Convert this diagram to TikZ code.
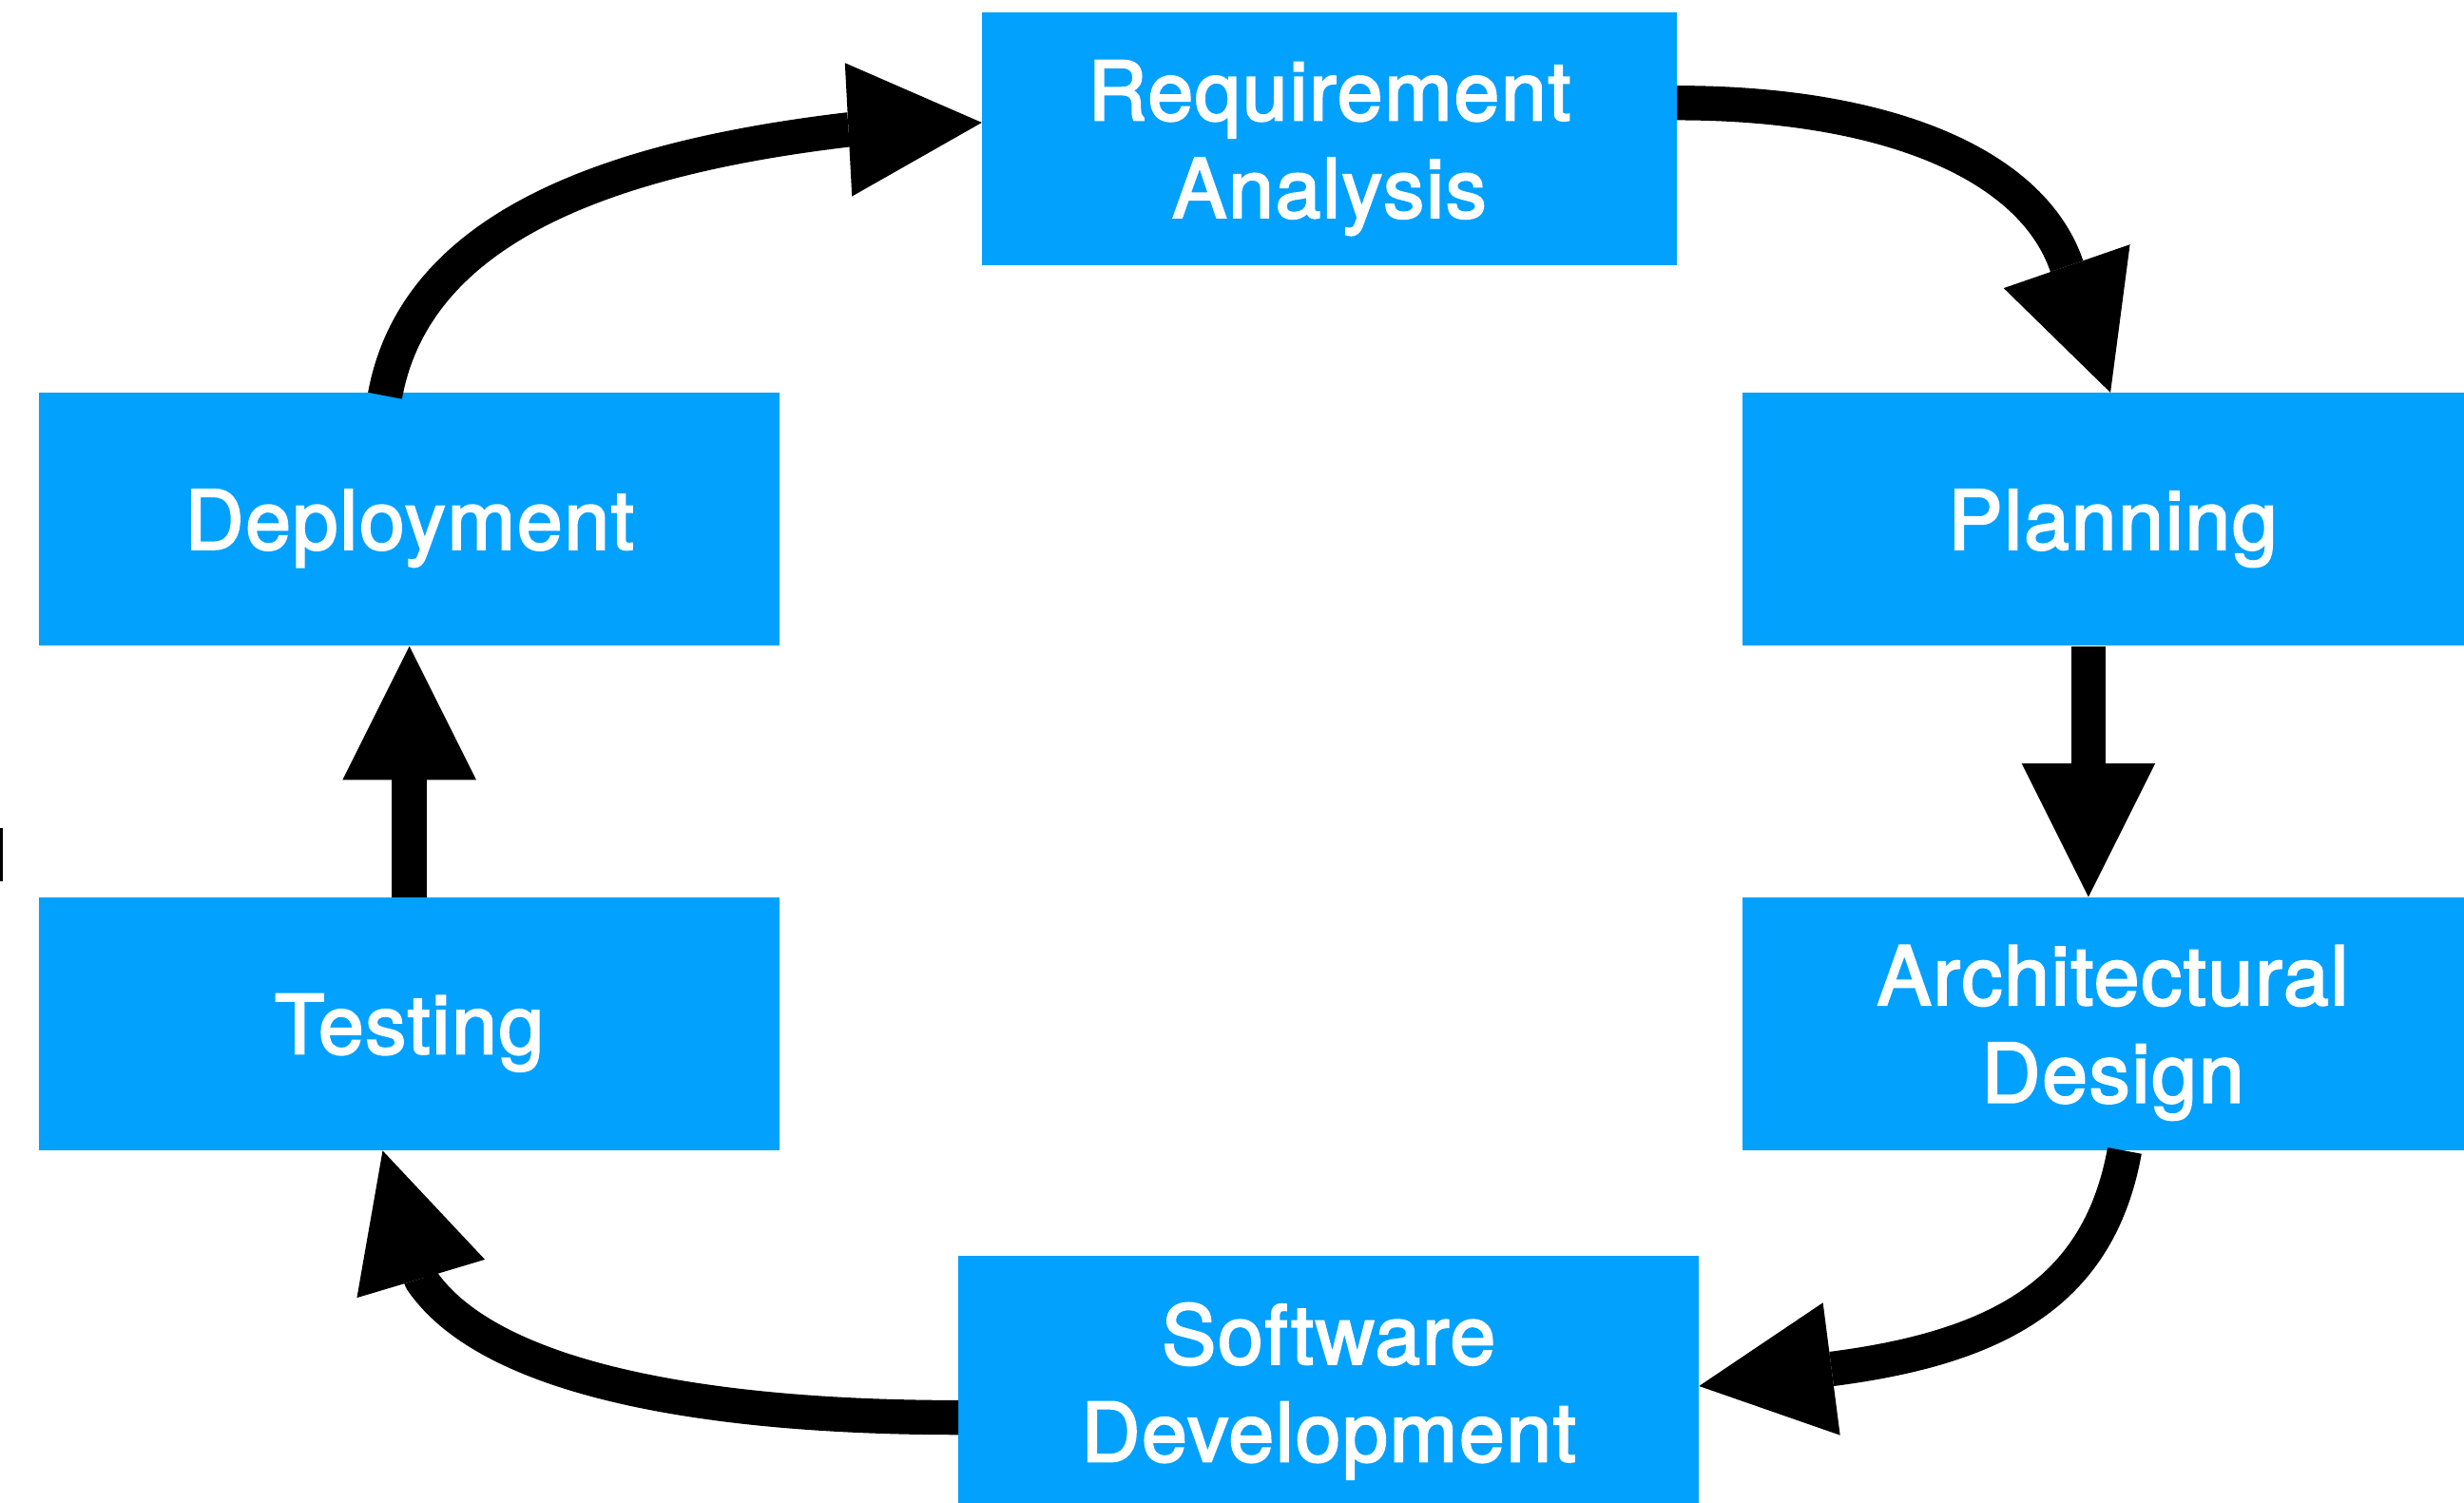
\documentclass[tikz,border=0pt]{standalone}
\usepackage{fontspec}
\setmainfont{TeX Gyre Heros}
\newfontfamily\stagefont{TeX Gyre Heros}[FakeBold=2.5,LetterSpace=2]
\usetikzlibrary{arrows.meta}
\definecolor{boxblue}{RGB}{3,161,254}
\begin{document}
\begin{tikzpicture}[x=1pt,y=-1pt,
  stage/.style={fill=boxblue, text=white, minimum width=471pt, minimum height=161pt,
    inner sep=0pt, text depth=0pt, font=\stagefont\fontsize{52}{62}\selectfont, align=center},
  flow/.style={line width=22pt, line join=round, -{Triangle[length=85pt,width=85pt,line width=0pt]}}]
\useasboundingbox (0,0) rectangle (1568,956);
\fill[white] (0,0) rectangle (1568,956);
\clip (0,0) rectangle (1568,956);

\node[stage, minimum width=442pt] (req) at (846,88.5) {Requirement\\Analysis};
\node[stage] (dep) at (260.5,330.5) {Deployment};
\node[stage] (plan) at (1344.5,330.5) {Planning};
\node[stage] (test) at (260.5,651.5) {Testing};
\node[stage] (arch) at (1344.5,651.5) {Architectural\\Design};
\node[stage] (soft) at (845.5,879.5) {Software\\Development};

% Requirement Analysis -> Planning
\draw[flow] ([yshift=23pt]req.east) .. controls +(130,0) and +(-23,-66)
  .. ([shift={(-29.5,-81)}]plan.north) -- ([xshift=-1.5pt]plan.north);
% Planning -> Architectural Design
\draw[flow] ([xshift=-15.5pt]plan.south) -- ([xshift=-15.5pt]arch.north);
% Architectural Design -> Software Development
\draw[flow] ([xshift=7.5pt]arch.south) .. controls +(-16,88) and +(108.9,-14.1)
  .. ([shift={(85,-8.5)}]soft.east) -- ([yshift=-2.5pt]soft.east);
% Software Development -> Testing
\draw[flow] ([yshift=-22.5pt]soft.west) .. controls +(-150,0) and +(44.8,66.4)
  .. ([shift={(7.5,82)}]test.south) -- ([xshift=-17pt]test.south);
% Testing -> Deployment
\draw[flow] (test.north) -- (dep.south);
% Deployment -> Requirement Analysis
\draw[flow] ([shift={(-15.5,2)}]dep.north) .. controls +(18.9,-102.9) and +(-161.9,19.1)
  .. ([shift={(-85,-6)}]req.west) -- ([yshift=10.5pt]req.west);

\draw[line width=2pt] (1,527) -- (1,561);
\end{tikzpicture}
\end{document}
